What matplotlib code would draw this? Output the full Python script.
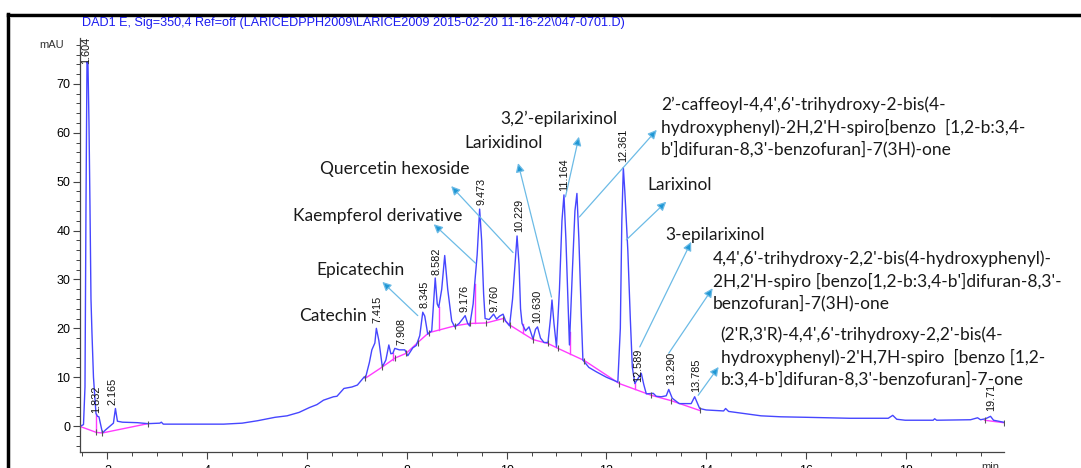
import numpy as np
import matplotlib.pyplot as plt
from matplotlib.lines import Line2D
from matplotlib.ticker import MultipleLocator

# chromatogram trace (min, mAU)
sig_t = [1.46, 1.52, 1.55, 1.57, 1.59, 1.61, 1.63, 1.65, 1.67, 1.69, 1.72, 1.77, 1.80, 1.83, 1.87,
         1.90, 1.96, 2.05, 2.12, 2.16, 2.20, 2.30, 2.60, 2.81, 3.05, 3.08, 3.12, 3.60, 4.33, 4.70,
         5.01, 5.36, 5.60, 5.84, 6.05, 6.20, 6.33, 6.53, 6.60, 6.74, 6.90, 7.01, 7.15, 7.17, 7.25,
         7.30, 7.36, 7.39, 7.44, 7.51, 7.58, 7.64, 7.68, 7.72, 7.76, 7.85, 7.96, 8.02, 8.12, 8.19,
         8.26, 8.32, 8.36, 8.42, 8.50, 8.57, 8.61, 8.64, 8.70, 8.76, 8.82, 8.90, 8.96, 9.05, 9.17,
         9.22, 9.26, 9.33, 9.36, 9.41, 9.46, 9.50, 9.54, 9.57, 9.65, 9.74, 9.80, 9.86, 9.93, 9.98,
         10.06, 10.12, 10.17, 10.21, 10.25, 10.28, 10.31, 10.38, 10.45, 10.53, 10.58, 10.62, 10.68,
         10.75, 10.83, 10.88, 10.91, 10.95, 11.00, 11.06, 11.11, 11.15, 11.19, 11.26, 11.32, 11.37,
         11.41, 11.45, 11.50, 11.53, 11.65, 11.80, 12.00, 12.23, 12.28, 12.31, 12.34, 12.37, 12.43,
         12.48, 12.52, 12.57, 12.62, 12.70, 12.75, 12.80, 12.94, 13.00, 13.10, 13.20, 13.25, 13.32,
         13.46, 13.70, 13.77, 13.87, 14.00, 14.35, 14.39, 14.45, 14.81, 15.10, 15.50, 16.00, 16.88,
         17.65, 17.74, 17.82, 17.99, 18.55, 18.58, 18.62, 19.30, 19.44, 19.50, 19.60, 19.70, 19.76,
         19.96]
sig_y = [0.0, 0.3, 8, 45, 74.5, 74.0, 62, 45, 26, 19, 10, 2.6, 2.0, 1.9, 0.0,
         -1.4, -0.8, 0.0, 0.6, 3.6, 1.0, 0.8, 0.7, 0.5, 0.6, 0.8, 0.4, 0.4, 0.4, 0.6,
         1.1, 1.8, 2.1, 2.8, 3.8, 4.4, 5.3, 6.0, 6.1, 7.7, 8.0, 8.4, 10.1, 9.8, 13.0,
         15.6, 17.0, 20.0, 17.5, 12.1, 13.5, 16.6, 14.8, 14.9, 15.9, 15.6, 15.6, 14.4, 16.0, 16.5,
         18.5, 23.3, 22.5, 18.8, 19.5, 30.3, 25, 24.3, 28, 34.9, 28, 21.5, 20.3, 21.0, 22.6,
         21.0, 20.5, 25, 29.0, 35, 44.4, 38, 27, 22.0, 21.8, 22.9, 21.9, 22.5, 22.9, 21.5,
         20.5, 26, 33, 38.9, 33, 24, 21.0, 19.5, 20.3, 17.8, 19.8, 20.3, 18.0,
         17.1, 17.1, 22, 25.8, 21, 16.2, 28, 42, 47.3, 38, 16.6, 32, 44,
         47.6, 38, 22, 13.5, 12.0, 11.1, 10.0, 9.0, 20, 42, 52.9, 48, 36.0,
         22, 12.1, 8.7, 9.5, 10.8, 8.5, 6.6, 6.7, 6.1, 6.0, 6.2, 7.5, 5.7,
         4.6, 4.6, 6.0, 3.6, 3.3, 3.1, 3.6, 3.0, 2.5, 2.1, 1.9, 1.8, 1.6,
         1.6, 2.2, 1.4, 1.2, 1.2, 1.5, 1.2, 1.3, 1.7, 1.3, 1.5, 2.0, 1.2,
         0.8]

# integration baselines
base1_t = [1.46, 1.78, 1.90, 2.81]
base1_y = [-0.1, -1.3, -1.4, 0.5]
base2_t = [7.17, 7.51, 7.76, 7.99, 8.22, 8.44, 8.96, 9.26, 9.59, 9.93, 10.06, 10.53, 10.83,
           11.03, 11.56, 12.26, 12.90, 13.30, 13.87]
base2_y = [9.8, 12.1, 13.9, 14.9, 17.1, 19.1, 20.5, 21.0, 21.1, 22.0, 20.7, 17.7, 16.9,
           15.9, 13.4, 8.7, 6.3, 5.2, 3.2]
base3_t = [19.58, 19.96]
base3_y = [1.2, 0.7]
drop_t = [1.78, 7.72, 8.64, 9.36, 10.32, 11.27, 12.58]

# retention time labels: text, x, bottom y
rt_labels = ["1.604", "1.832", "2.165", "7.415", "7.908", "8.345", "8.582", "9.176", "9.473",
             "9.760", "10.229", "10.630", "11.164", "12.361", "12.589", "13.290", "13.785", "19.71"]
rt_x = [1.58, 1.78, 2.11, 7.42, 7.89, 8.36, 8.59, 9.16, 9.49, 9.76, 10.25, 10.62, 11.16,
        12.33, 12.63, 13.29, 13.79, 19.71]
rt_y = [74.0, 2.7, 4.3, 21.0, 16.6, 24.1, 30.9, 23.4, 45.2, 23.4, 39.8, 21.0, 48.0,
        54.1, 9.1, 8.4, 7.0, 3.1]

# compound names with arrows: text, text pos (left, centre), arrow tail, arrow head
names = ["Catechin", "Epicatechin", "Kaempferol derivative", "Quercetin hexoside",
         "Larixidinol", "3,2’-epilarixinol",
         "2’-caffeoyl-4,4',6'-trihydroxy-2-bis(4-\nhydroxyphenyl)-2H,2'H-spiro[benzo  [1,2-b:3,4-\nb']difuran-8,3'-benzofuran]-7(3H)-one",
         "Larixinol", "3-epilarixinol",
         "4,4',6'-trihydroxy-2,2'-bis(4-hydroxyphenyl)-\n2H,2'H-spiro [benzo[1,2-b:3,4-b']difuran-8,3'-\nbenzofuran]-7(3H)-one",
         "(2'R,3'R)-4,4',6'-trihydroxy-2,2'-bis(4-\nhydroxyphenyl)-2'H,7H-spiro  [benzo [1,2-\nb:3,4-b']difuran-8,3'-benzofuran]-7-one"]
name_x = [5.85, 6.19, 5.71, 6.27, 9.16, 9.87, 13.10, 12.83, 13.19, 14.13, 14.29]
name_y = [22.5, 31.9, 43.0, 52.5, 57.9, 62.8, 61.2, 49.3, 39.1, 29.7, 14.1]
tail = [None, (8.22, 22.6), (9.38, 33.3), (10.13, 35.5), (10.90, 26.4), (11.18, 46.9),
        (11.46, 42.8), (12.40, 38.1), (12.67, 16.2), (13.25, 14.9), (13.84, 6.3)]
head = [None, (7.51, 29.5), (8.54, 41.3), (8.89, 49.1), (10.23, 53.8), (11.45, 59.2),
        (13.01, 60.6), (13.20, 45.9), (13.70, 37.7), (14.13, 28.2), (14.25, 12.1)]

plt.rcParams['font.family'] = ['Liberation Sans', 'DejaVu Sans']

fig = plt.figure(figsize=(10.81, 4.68), dpi=100)
ax = fig.add_axes([80 / 1081, 1 - 452 / 468, 924 / 1081, 414 / 468])

blue = '#4646ff'
pink = '#ff3cff'

ax.plot(sig_t, sig_y, color=blue, lw=1.0, zorder=3)
for bt, by in [(base1_t, base1_y), (base2_t, base2_y), (base3_t, base3_y)]:
    ax.plot(bt, by, color=pink, lw=1.0, zorder=2)
    ax.plot(bt, by, ls='none', marker='|', ms=5, mew=0.8, color='#555555', zorder=4)

all_bt = base1_t + base2_t
all_by = base1_y + base2_y
for t in drop_t:
    yb = np.interp(t, all_bt, all_by)
    ys = np.interp(t, sig_t, sig_y)
    ax.plot([t, t], [yb, ys], color=pink, lw=1.0, zorder=2)

for lab, x, y in zip(rt_labels, rt_x, rt_y):
    ax.text(x, y, lab, rotation=90, ha='center', va='bottom', fontsize=7.8, color='#111111',
            zorder=5)

for i, txt in enumerate(names):
    ax.text(name_x[i], name_y[i], txt, ha='left', va='center', fontsize=12.5,
            family=['Lato', 'DejaVu Sans'], color='#1a1a1a', linespacing=1.42, zorder=6)
    if tail[i] is not None:
        ax.annotate('', xy=head[i], xytext=tail[i],
                    arrowprops=dict(arrowstyle='-|>', color='#6cbbe6', lw=0.9,
                                    mutation_scale=13, shrinkA=0, shrinkB=0,
                                    fc='#1f97d4', ec='#6cbbe6'), zorder=5)

ax.set_xlim(1.45, 19.97)
ax.set_ylim(-5.3, 79.4)
ax.xaxis.set_major_locator(MultipleLocator(2))
ax.xaxis.set_minor_locator(MultipleLocator(0.5))
ax.yaxis.set_major_locator(MultipleLocator(10))
ax.yaxis.set_minor_locator(MultipleLocator(2))
ax.set_xticks(range(2, 20, 2))
ax.set_xticklabels([str(v) for v in range(2, 20, 2)])
for s in ['top', 'right']:
    ax.spines[s].set_visible(False)
for s in ['left', 'bottom']:
    ax.spines[s].set_color('#444444')
    ax.spines[s].set_linewidth(0.9)
ax.tick_params(which='major', length=5, width=0.8, color='#444444', labelsize=9, pad=2)
ax.tick_params(which='minor', length=3, width=0.7, color='#444444')
ax.tick_params(axis='x', pad=4)

fig.text(64 / 1081, 1 - 45 / 468, 'mAU', ha='right', va='center', fontsize=8, color='#333333')
fig.text(990 / 1081, 1 - 467 / 468, 'min', ha='center', va='center', fontsize=8, color='#333333')
fig.text(82 / 1081, 1 - 23 / 468,
         'DAD1 E, Sig=350,4 Ref=off (LARICEDPPH2009\\LARICE2009 2015-02-20 11-16-22\\047-0701.D)',
         ha='left', va='center', fontsize=9.1, color='#1c1cf0')

# screenshot frame
fig.add_artist(Line2D([8 / 1081, 8 / 1081], [0, 1 - 14 / 468], color='black', lw=2.5))
fig.add_artist(Line2D([8 / 1081, 1], [1 - 15 / 468, 1 - 15 / 468], color='black', lw=2.5))
fig.add_artist(Line2D([10 / 1081, 990 / 1081], [1 - 16.8 / 468, 1 - 16.8 / 468],
                      color='#d0d0d0', lw=0.7))

fig.savefig('out.png', dpi=100)
